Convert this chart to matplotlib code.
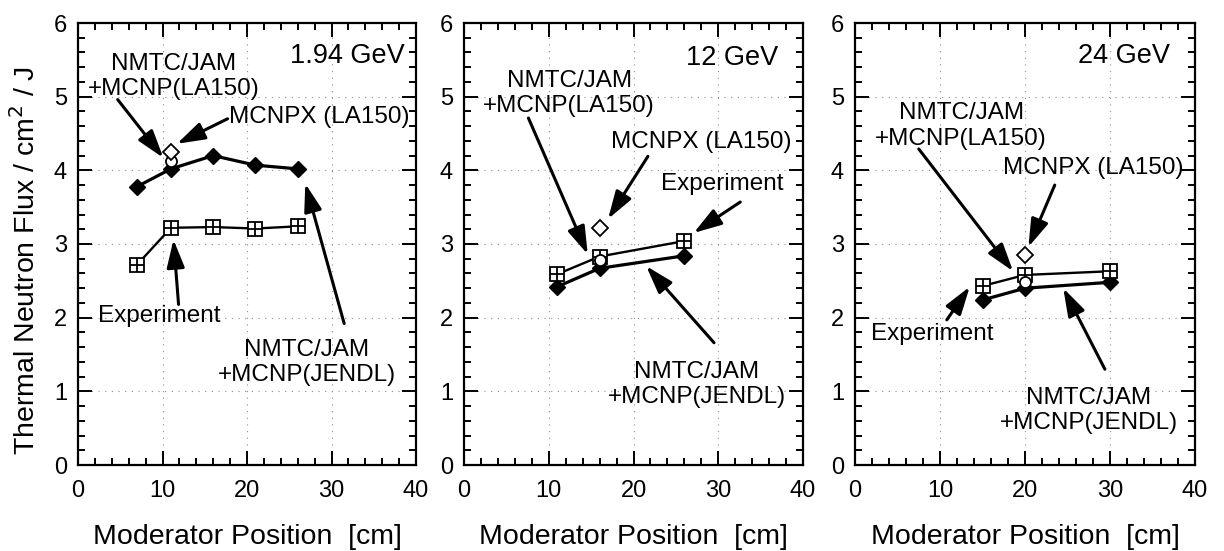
import matplotlib
matplotlib.use("Agg")
import matplotlib.pyplot as plt
from matplotlib.ticker import MultipleLocator

plt.rcParams['font.family'] = ['Liberation Sans', 'DejaVu Sans']

# ---- data ----
energies = ["1.94 GeV", "12 GeV", "24 GeV"]

jendl_x = [[7, 11, 16, 21, 26], [11, 16, 26], [15, 20, 30]]
jendl_y = [[3.78, 4.02, 4.20, 4.07, 4.02], [2.42, 2.67, 2.84], [2.24, 2.40, 2.48]]

exp_x = [[7, 11, 16, 21, 26], [11, 16, 26], [15, 20, 30]]
exp_y = [[2.72, 3.22, 3.23, 3.21, 3.24], [2.59, 2.83, 3.04], [2.43, 2.58, 2.63]]

la150_x = [11, 16, 20]
la150_y = [4.13, 2.78, 2.49]

mcnpx_x = [11, 16, 20]
mcnpx_y = [4.25, 3.22, 2.85]

# annotation layout per panel: (text, text_xy, arrow_tail, arrow_head)
annots = [
    [("NMTC/JAM\n+MCNP(LA150)", (11.3, 5.27), (4.7, 4.96), (10.1, 4.17)),
     ("MCNPX (LA150)", (28.6, 4.72), (17.7, 4.70), (11.7, 4.36)),
     ("Experiment", (9.6, 2.02), (11.9, 2.18), (11.3, 3.06)),
     ("NMTC/JAM\n+MCNP(JENDL)", (27.1, 1.39), (31.5, 1.92), (26.9, 3.82))],
    [("NMTC/JAM\n+MCNP(LA150)", (12.4, 5.04), (7.6, 4.71), (14.6, 2.86)),
     ("MCNPX (LA150)", (28.0, 4.38), (21.7, 4.19), (17.0, 3.34)),
     ("Experiment", (30.5, 3.81), (32.6, 3.57), (27.1, 3.15)),
     ("NMTC/JAM\n+MCNP(JENDL)", (27.5, 1.09), (29.5, 1.66), (21.5, 2.70))],
    [("NMTC/JAM\n+MCNP(LA150)", (12.5, 4.60), (7.5, 4.29), (18.6, 2.63)),
     ("MCNPX (LA150)", (28.0, 4.03), (23.5, 3.80), (20.4, 2.96)),
     ("Experiment", (9.1, 1.78), (10.8, 1.97), (13.5, 2.42)),
     ("NMTC/JAM\n+MCNP(JENDL)", (27.5, 0.74), (29.4, 1.30), (24.5, 2.40))],
]
energy_xy = [(31.9, 5.55), (31.6, 5.52), (31.6, 5.55)]

W, H = 1224, 551
fig = plt.figure(figsize=(W / 100, H / 100), dpi=100)
panels_px = [(78, 416), (464, 803), (855, 1195)]
top_px, bot_px = 23, 465

for i, (l, r) in enumerate(panels_px):
    ax = fig.add_axes([l / W, (H - bot_px) / H, (r - l) / W, (bot_px - top_px) / H])
    ax.set_xlim(0, 40)
    ax.set_ylim(0, 6)
    ax.xaxis.set_major_locator(MultipleLocator(10))
    ax.xaxis.set_minor_locator(MultipleLocator(2))
    ax.yaxis.set_major_locator(MultipleLocator(1))
    ax.yaxis.set_minor_locator(MultipleLocator(0.2))
    ax.tick_params(which='both', direction='in', top=True, right=True, width=1.4)
    ax.tick_params(which='major', length=10, labelsize=17)
    ax.tick_params(which='minor', length=5)
    ax.tick_params(axis='x', which='major', pad=11)
    ax.tick_params(axis='y', which='major', pad=8)
    for s in ax.spines.values():
        s.set_linewidth(1.6)
    ax.grid(True, which='major', color='0.55', linestyle=(0, (1, 5)), linewidth=0.8)

    # experiment
    ax.plot(exp_x[i], exp_y[i], '-', color='k', lw=1.7, zorder=3)
    ax.plot(exp_x[i], exp_y[i], 's', mfc='white', mec='k', mew=1.3, ms=9.5, ls='none', zorder=4)
    ax.plot(exp_x[i], exp_y[i], '+', mec='k', mew=1.3, ms=9.5, ls='none', zorder=5)
    # JENDL
    ax.plot(jendl_x[i], jendl_y[i], '-', color='k', lw=2.3, zorder=3)
    ax.plot(jendl_x[i], jendl_y[i], 'D', color='k', ms=8.5, ls='none', zorder=3)
    # LA150 circle and MCNPX diamond
    ax.plot([la150_x[i]], [la150_y[i]], 'o', mfc='white', mec='k', mew=1.3, ms=8, zorder=6)
    ax.plot([mcnpx_x[i]], [mcnpx_y[i]], 'D', mfc='white', mec='k', mew=1.3, ms=8.5, zorder=6)

    for txt, txy, tail, head in annots[i]:
        ax.text(txy[0], txy[1], txt, ha='center', va='center', fontsize=17.5,
                linespacing=1.2, zorder=7)
        ax.annotate('', xy=head, xytext=tail,
                    arrowprops=dict(arrowstyle='-|>,head_length=0.85,head_width=0.27',
                                    mutation_scale=20, lw=2.2, color='k',
                                    shrinkA=0, shrinkB=0), zorder=7)
    ax.text(energy_xy[i][0], energy_xy[i][1], energies[i], ha='center', va='center',
            fontsize=19.5)
    ax.set_xlabel("Moderator Position  [cm]", fontsize=20.5, labelpad=16)
    if i == 0:
        ax.set_ylabel("Thermal Neutron Flux / cm$^2$ / J", fontsize=20.5)
        ax.yaxis.set_label_coords(-0.11, 0.462)

fig.savefig("out.png", dpi=100)
